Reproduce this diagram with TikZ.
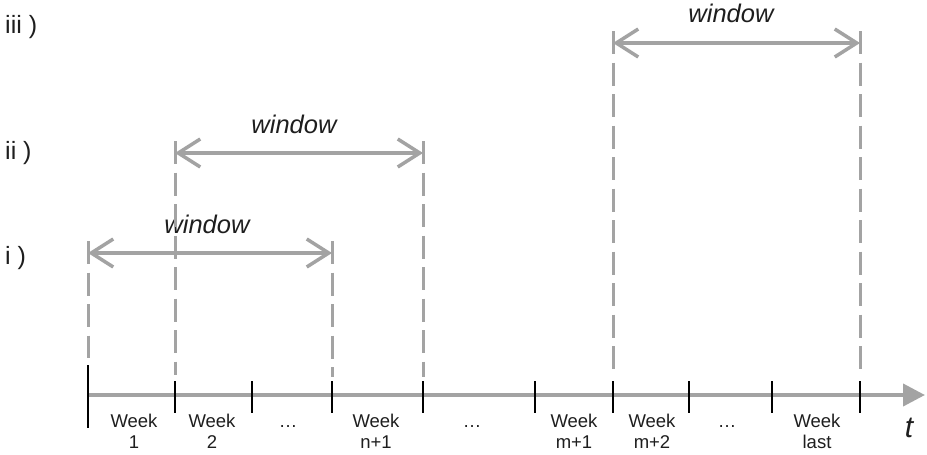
\documentclass[tikz,border=0pt]{standalone}
\usepackage{fontspec}
\setmainfont{Liberation Sans}
\usetikzlibrary{arrows.meta}
\definecolor{lg}{RGB}{163,163,163}
\definecolor{txt}{RGB}{30,30,30}
\begin{document}
\begin{tikzpicture}[x=1pt,y=-1pt,
  winarrow/.style={draw=lg, line width=3.5pt,
    {Straight Barb[length=22pt,width=28pt]}-{Straight Barb[length=22pt,width=28pt]}},
  guide/.style={draw=lg, line width=3pt, dash pattern=on 23pt off 8.5pt},
  axisline/.style={draw=lg, line width=4pt, -{Triangle[length=22pt,width=22pt]}},
  tickmark/.style={draw=black, line width=2.5pt},
  wk/.style={font=\fontsize{18.5}{21}\selectfont, align=center, anchor=north, inner sep=0pt, text=txt},
  dots/.style={font=\fontsize{18.5}{21}\selectfont, anchor=base, inner sep=0pt, text=txt},
  wlabel/.style={font=\fontsize{25.5}{28}\selectfont\itshape, anchor=base, inner sep=0pt, text=txt},
  rowlabel/.style={font=\fontsize{25}{28}\selectfont, anchor=base west, inner sep=0pt, text=txt}]
\useasboundingbox (0,0) rectangle (927,455);

% axis
\coordinate (a0) at (88,395);
\coordinate (a1) at (925,395);
\draw[axisline] (a0) -- (a1);

% ticks
\coordinate (t1a) at (88,365);  \coordinate (t1b) at (88,428);
\foreach \n/\x in {2/175,3/252,4/332,5/423,6/535,7/613,8/689,9/772,10/860}{
  \coordinate (t\n a) at (\x,381);
  \coordinate (t\n b) at (\x,413);
}
\draw[tickmark] (t1a) -- (t1b);
\foreach \n in {2,...,10}{\draw[tickmark] (t\n a) -- (t\n b);}

% window i
\coordinate (wiL) at (88,253);  \coordinate (wiR) at (332,253);
\coordinate (giLt) at (88,241); \coordinate (giLb) at (88,358);
\coordinate (giRt) at (332,241); \coordinate (giRb) at (332,377);
\draw[guide] (giLt) -- (giLb);
\draw[guide] (giRt) -- (giRb);
\draw[winarrow] (wiL) -- (wiR);
\node[wlabel] (li) at (207,233) {window};

% window ii
\coordinate (wiiL) at (175,153);  \coordinate (wiiR) at (423,153);
\coordinate (giiLt) at (175,141); \coordinate (giiLb) at (175,375);
\coordinate (giiRt) at (423,141); \coordinate (giiRb) at (423,377);
\draw[guide] (giiLt) -- (giiLb);
\draw[guide] (giiRt) -- (giiRb);
\draw[winarrow] (wiiL) -- (wiiR);
\node[wlabel] (lii) at (294,133) {window};

% window iii
\coordinate (wiiiL) at (613,43);  \coordinate (wiiiR) at (860,43);
\coordinate (giiiLt) at (613,31); \coordinate (giiiLb) at (613,372);
\coordinate (giiiRt) at (860,31); \coordinate (giiiRb) at (860,372);
\draw[guide] (giiiLt) -- (giiiLb);
\draw[guide] (giiiRt) -- (giiiRb);
\draw[winarrow] (wiiiL) -- (wiiiR);
\node[wlabel] (liii) at (731,23) {window};

% row labels
\node[rowlabel] (r3) at (5,33) {iii )};
\node[rowlabel] (r2) at (5,159) {ii )};
\node[rowlabel] (r1) at (5,264) {i )};

% week labels
\node[wk] (w1) at (134,414) {Week\\1};
\node[wk] (w2) at (212,414) {Week\\2};
\node[dots] (d1) at (288,427) {…};
\node[wk] (wn) at (376,414) {Week\\n+1};
\node[dots] (d2) at (472,427) {…};
\node[wk] (wm1) at (574,414) {Week\\m+1};
\node[wk] (wm2) at (652,414) {Week\\m+2};
\node[dots] (d3) at (727,427) {…};
\node[wk] (wl) at (817,414) {Week\\last};
\node[font=\fontsize{30}{34}\selectfont\itshape, anchor=base, inner sep=0pt, text=txt] (tl) at (909,437) {t};
\end{tikzpicture}
\end{document}
